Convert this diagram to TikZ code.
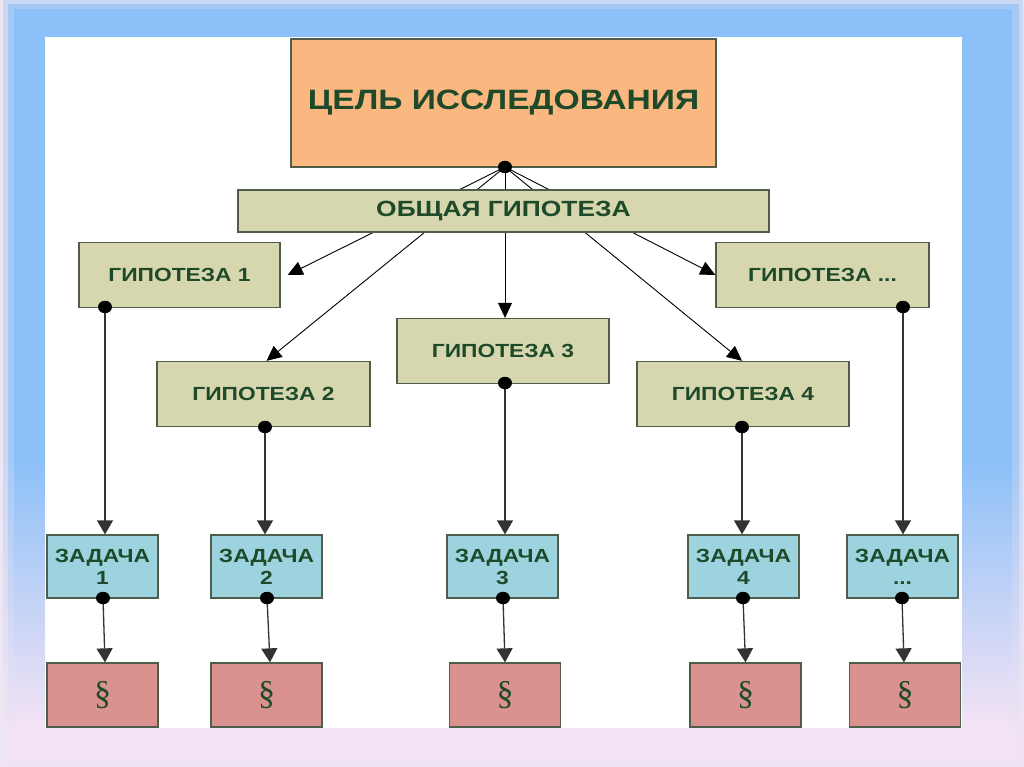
\documentclass[tikz,border=0pt]{standalone}
\usepackage{fontspec}
\setmainfont{Liberation Sans}
\newfontfamily\bx[FakeStretch=1.2]{Liberation Sans}
\newfontfamily\sectfont{Liberation Serif}
\usetikzlibrary{arrows.meta,calc}
\definecolor{txt}{HTML}{1E4A2A}
\definecolor{edge}{HTML}{4E5E4A}
\definecolor{goalc}{HTML}{FAB77F}
\definecolor{hypc}{HTML}{D6D6AF}
\definecolor{taskc}{HTML}{9DD3DF}
\definecolor{secc}{HTML}{D9928E}
\definecolor{lav}{HTML}{EEE6F3}
\definecolor{bandblue}{HTML}{8CC0F8}
\definecolor{bandpink}{HTML}{F3E3F5}
\pgfdeclareverticalshading{frameband}{100bp}{color(0bp)=(bandpink); color(27bp)=(bandpink); color(45bp)=(bandblue); color(100bp)=(bandblue)}
\tikzset{
  box/.style={draw=edge, line width=1.3pt, text=txt, inner sep=0pt, align=center},
  goalbox/.style={box, fill=goalc, minimum width=425pt, minimum height=128pt, font=\bx\bfseries\fontsize{28}{32}\selectfont},
  genbox/.style={box, fill=hypc, minimum width=531pt, minimum height=42pt, font=\bx\bfseries\fontsize{22}{26}\selectfont},
  hypbox/.style={box, fill=hypc, minimum width=212pt, minimum height=65pt, font=\bx\bfseries\fontsize{19}{22}\selectfont},
  taskbox/.style={box, fill=taskc, minimum width=111pt, minimum height=63pt, font=\bx\bfseries\fontsize{19}{22}\selectfont},
  secbox/.style={box, fill=secc, minimum width=111pt, minimum height=64pt, font=\sectfont\fontsize{34}{36}\selectfont},
  dot/.style={ellipse, fill=black, inner sep=0pt, minimum width=14pt, minimum height=12.5pt},
  thinarr/.style={draw=black, line width=0.9pt, -{Triangle[length=15pt,width=14pt]}},
  varr/.style={draw=black!80, line width=1.3pt, -{Triangle[length=14pt,width=16pt]}}
}
\usetikzlibrary{shapes.geometric}
\begin{document}
\begin{tikzpicture}[x=1pt,y=-1pt]
\useasboundingbox (0,0) rectangle (1024,767);
% background frame
\fill[lav] (0,0) rectangle (1024,767);
\shade[shading=frameband, opacity=0.35] (3,1) rectangle (1023,766);
\shade[shading=frameband, opacity=0.6] (8,5) rectangle (1019,762);
\shade[shading=frameband] (14,10) rectangle (1012,757);
\fill[white] (45,37) rectangle (962,728);

% nodes
\node[goalbox] (goal) at (503.5,103) {ЦЕЛЬ ИССЛЕДОВАНИЯ};
\node[hypbox, minimum width=201pt] (h1) at (179.5,275) {ГИПОТЕЗА 1};
\node[hypbox, minimum width=213pt] (h2) at (263.5,394) {ГИПОТЕЗА 2};
\node[hypbox] (h3) at (503,351) {ГИПОТЕЗА 3};
\node[hypbox] (h4) at (743,394) {ГИПОТЕЗА 4};
\node[hypbox, minimum width=213pt] (hd) at (822.5,275) {ГИПОТЕЗА ...};

\node[taskbox] (t1) at (102.5,566.5) {ЗАДАЧА\\1};
\node[taskbox] (t2) at (266.5,566.5) {ЗАДАЧА\\2};
\node[taskbox] (t3) at (502.5,566.5) {ЗАДАЧА\\3};
\node[taskbox] (t4) at (743.5,566.5) {ЗАДАЧА\\4};
\node[taskbox] (td) at (902.5,566.5) {ЗАДАЧА\\...};

\node[secbox] (s1) at (102.5,695) {§};
\node[secbox] (s2) at (266.5,695) {§};
\node[secbox] (s3) at (505,695) {§};
\node[secbox] (s4) at (745.5,695) {§};
\node[secbox] (sd) at (905,695) {§};

% fan of arrows from the goal
\coordinate (dgc) at (505,167);
\draw[thinarr] (dgc) -- ([xshift=7pt]h1.east);
\draw[thinarr] (dgc) -- ([xshift=3pt]h2.north);
\draw[thinarr] (dgc) -- ([xshift=2pt]h3.north);
\draw[thinarr] (dgc) -- ([xshift=-1pt]h4.north);
\draw[thinarr] (dgc) -- (hd.west);

\node[genbox] (gen) at (503.5,211) {ОБЩАЯ ГИПОТЕЗА};
\node[dot] (dg) at (dgc) {};

% hypothesis -> task
\coordinate (e1) at (105,307);
\coordinate (e2) at (265,427);
\coordinate (e3) at (505,383);
\coordinate (e4) at (742,427);
\coordinate (ed) at (903,307);
\draw[varr] (e1) -- (e1 |- t1.north);
\draw[varr] (e2) -- (e2 |- t2.north);
\draw[varr] (e3) -- (e3 |- t3.north);
\draw[varr] (e4) -- (e4 |- t4.north);
\draw[varr] (ed) -- (ed |- td.north);
\node[dot] (e1d) at (e1) {};
\node[dot] (e2d) at (e2) {};
\node[dot] (e3d) at (e3) {};
\node[dot] (e4d) at (e4) {};
\node[dot] (edd) at (ed) {};

% task -> paragraph
\coordinate (f1) at (103,598);
\coordinate (f2) at (267,598);
\coordinate (f3) at (503,598);
\coordinate (f4) at (743,598);
\coordinate (fd) at (902,598);
\draw[varr] (f1) -- ([xshift=2.5pt]s1.north);
\draw[varr] (f2) -- ([xshift=3.5pt]s2.north);
\draw[varr] (f3) -- (s3.north);
\draw[varr] (f4) -- (s4.north);
\draw[varr] (fd) -- ([xshift=-1pt]sd.north);
\node[dot] (f1d) at (f1) {};
\node[dot] (f2d) at (f2) {};
\node[dot] (f3d) at (f3) {};
\node[dot] (f4d) at (f4) {};
\node[dot] (fdd) at (fd) {};
\end{tikzpicture}
\end{document}
